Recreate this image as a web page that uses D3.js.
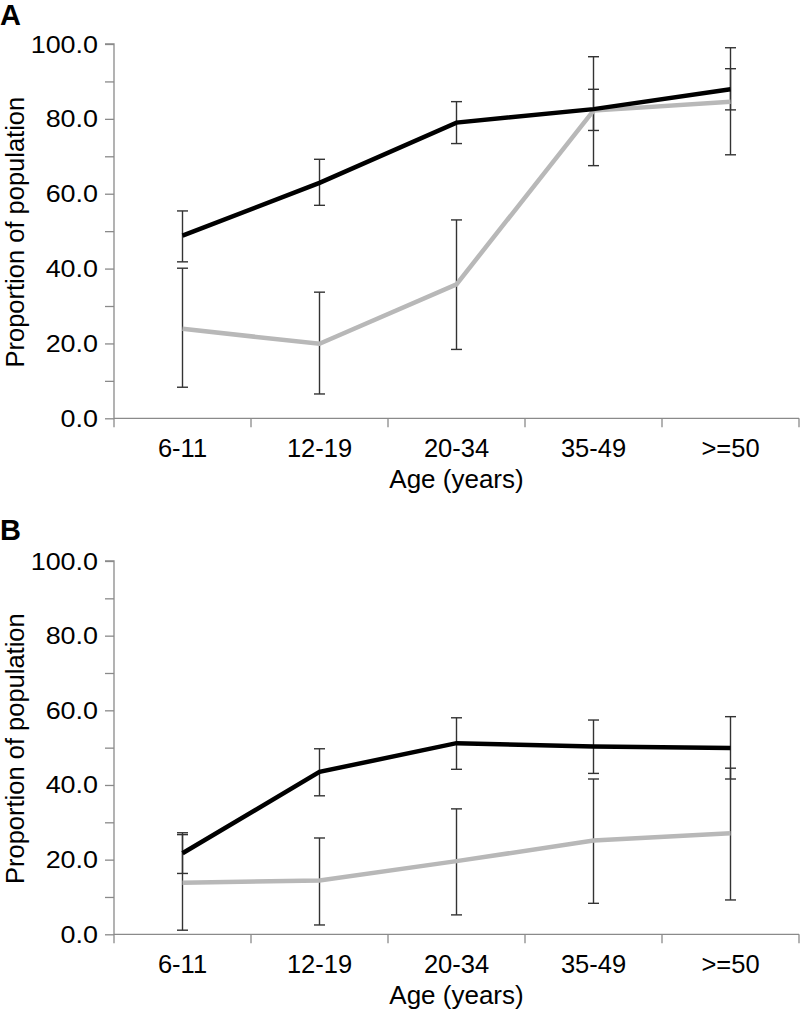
<!DOCTYPE html>
<html>
<head>
<meta charset="utf-8">
<script src="https://cdn.jsdelivr.net/npm/d3@7"></script>
<style>
  html, body { margin: 0; padding: 0; background: #fff; }
  svg { display: block; font-family: "Liberation Sans", Arial, sans-serif; }
</style>
</head>
<body>
<svg id="chart" width="800" height="1013"></svg>
<script>
// ---- Data ----
const categories = ["6-11", "12-19", "20-34", "35-49", ">=50"];
const yTickValues = [0, 20, 40, 60, 80, 100];
const yMinorTickValues = [10, 30, 50, 70, 90];

// Panel A
const aBlack = [48.8, 62.9, 79.0, 82.6, 87.9];
const aBlackLow = [41.8, 56.9, 73.4, 76.9, 82.4];
const aBlackHigh = [55.4, 69.2, 84.6, 87.9, 93.4];
const aGray = [23.9, 19.9, 35.8, 82.2, 84.6];
const aGrayLow = [8.3, 6.5, 18.4, 67.5, 70.4];
const aGrayHigh = [40.1, 33.7, 53.0, 96.6, 99.0];

// Panel B
const bBlack = [21.7, 43.5, 51.2, 50.3, 49.9];
const bBlackLow = [16.3, 37.1, 44.2, 43.1, 41.6];
const bBlackHigh = [27.2, 49.7, 58.0, 57.4, 58.3];
const bGray = [13.8, 14.4, 19.6, 25.1, 27.1];
const bGrayLow = [1.1, 2.5, 5.2, 8.3, 9.2];
const bGrayHigh = [26.7, 25.8, 33.6, 41.6, 44.5];

const svg = d3.select("#chart");
const X0 = 114, X1 = 799;
const axisColor = "#8a8a8a";

function series(vals, lo, hi) {
  return categories.map((c, i) => ({ c, v: vals[i], lo: lo[i], hi: hi[i] }));
}

function drawPanel(letter, letterY, yTop, yBottom, blackS, grayS) {
  const g = svg.append("g");
  const x = d3.scaleBand().domain(categories).range([X0, X1]);
  const y = d3.scaleLinear().domain([0, 100]).range([yBottom, yTop]);

  // Panel letter
  g.append("text").attr("x", 0).attr("y", letterY)
    .attr("font-size", 29).attr("font-weight", "bold").attr("fill", "#000")
    .text(letter);

  // Y axis
  const yAxis = d3.axisLeft(y).tickValues(yTickValues).tickSize(9).tickFormat("");
  const ya = g.append("g").attr("transform", `translate(${X0},0)`).call(yAxis);
  ya.select(".domain").attr("stroke", axisColor).attr("stroke-width", 1.3).attr("d", `M-9,${yTop}H0V${yBottom}`);
  ya.selectAll(".tick line").attr("stroke", axisColor).attr("stroke-width", 1.3);
  const yMinor = d3.axisLeft(y).tickValues(yMinorTickValues).tickSize(9).tickFormat("");
  const ym = g.append("g").attr("transform", `translate(${X0},0)`).call(yMinor);
  ym.select(".domain").remove();
  ym.selectAll(".tick line").attr("stroke", axisColor).attr("stroke-width", 1.3);

  // Y tick labels
  g.selectAll(".ylab").data(yTickValues).enter().append("text")
    .attr("transform", d => `translate(98,${y(d)}) scale(1.17,1)`)
    .attr("dy", "0.37em")
    .attr("text-anchor", "end")
    .attr("font-size", 23)
    .attr("fill", "#000")
    .text(d => d.toFixed(1));

  // X axis
  const xAxis = d3.axisBottom(x).tickSize(0).tickPadding(0).tickFormat("");
  const xa = g.append("g").attr("transform", `translate(0,${yBottom})`).call(xAxis);
  xa.select(".domain").attr("stroke", axisColor).attr("stroke-width", 1.3).attr("d", `M${X0},0H${X1}`);
  xa.selectAll(".tick").remove();
  const bounds = categories.map(c => x(c)).concat([x.range()[1]]);
  xa.selectAll(".bt").data(bounds).enter().append("line")
    .attr("x1", d => d).attr("x2", d => d).attr("y1", 0).attr("y2", 9)
    .attr("stroke", axisColor).attr("stroke-width", 1.3);
  xa.selectAll(".xlab").data(categories).enter().append("text")
    .attr("x", d => x(d) + x.bandwidth() / 2)
    .attr("y", 38.5)
    .attr("text-anchor", "middle")
    .attr("font-size", 25.5)
    .attr("fill", "#000")
    .text(d => d);

  // Axis titles
  g.append("text")
    .attr("x", (X0 + X1) / 2).attr("y", yBottom + 70)
    .attr("text-anchor", "middle").attr("font-size", 26).attr("fill", "#000")
    .text("Age (years)");
  g.append("text")
    .attr("transform", `translate(23.5,${(yTop + yBottom) / 2 + 1}) rotate(-90)`)
    .attr("text-anchor", "middle").attr("font-size", 25.5).attr("fill", "#000")
    .text("Proportion of population");

  const cx = d => x(d.c) + x.bandwidth() / 2;
  const cap = 5.5;

  // Error bars
  [grayS, blackS].forEach(s => {
    const eb = g.append("g").attr("stroke", "#333").attr("stroke-width", 1.4).attr("fill", "none");
    eb.selectAll(".v").data(s).enter().append("line")
      .attr("x1", cx).attr("x2", cx).attr("y1", d => y(d.lo)).attr("y2", d => y(d.hi));
    eb.selectAll(".t").data(s).enter().append("line")
      .attr("x1", d => cx(d) - cap).attr("x2", d => cx(d) + cap)
      .attr("y1", d => y(d.hi)).attr("y2", d => y(d.hi));
    eb.selectAll(".b").data(s).enter().append("line")
      .attr("x1", d => cx(d) - cap).attr("x2", d => cx(d) + cap)
      .attr("y1", d => y(d.lo)).attr("y2", d => y(d.lo));
  });

  // Lines
  const line = d3.line().x(cx).y(d => y(d.v));
  g.append("path").datum(grayS).attr("d", line)
    .attr("fill", "none").attr("stroke", "#b8b8b8").attr("stroke-width", 4.5);
  g.append("path").datum(blackS).attr("d", line)
    .attr("fill", "none").attr("stroke", "#000").attr("stroke-width", 4.5);
}

drawPanel("A", 25, 44, 418.3,
  series(aBlack, aBlackLow, aBlackHigh), series(aGray, aGrayLow, aGrayHigh));
drawPanel("B", 540, 561, 934.3,
  series(bBlack, bBlackLow, bBlackHigh), series(bGray, bGrayLow, bGrayHigh));
</script>
</body>
</html>
